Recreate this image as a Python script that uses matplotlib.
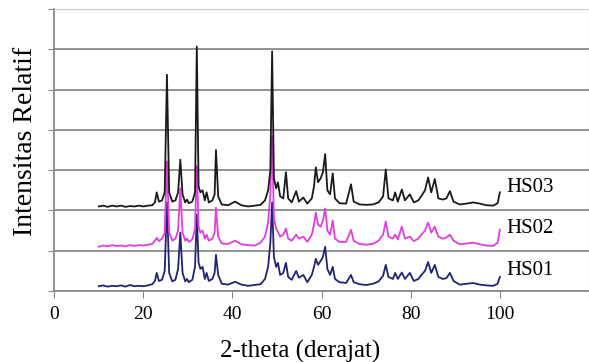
import matplotlib.pyplot as plt

plt.rcParams['font.family'] = ['Liberation Serif', 'DejaVu Serif']

# 2-theta positions of the trace vertices (shared by all three samples)
two_theta = [10.0, 11.0, 12.0, 13.0, 14.0, 15.0, 16.0, 17.0, 18.0, 19.0,
             20.0, 21.0, 22.0, 22.6,
             23.0, 23.5, 24.2, 24.8, 25.3, 25.8, 26.5, 27.2, 27.8, 28.3,
             28.8, 29.4, 29.8, 30.2, 31.0, 31.6, 32.0, 32.4, 32.8, 33.3,
             33.8, 34.2, 34.7, 35.5, 36.0, 36.3, 36.8, 37.6, 39.0, 40.6,
             42.0, 43.5, 45.0, 46.3, 47.3, 48.0, 48.5, 48.9, 49.3, 49.8,
             50.2, 50.7, 51.4, 52.0, 52.5, 53.3, 54.3, 54.9, 55.9, 56.8,
             57.8, 58.3, 58.7, 59.2, 59.8, 60.3, 60.8, 61.3, 61.9, 62.5,
             63.0, 64.0, 65.5, 66.6, 67.2, 68.5, 70.0, 71.5, 72.8, 73.8,
             74.4, 75.0, 76.0, 76.5, 77.1, 78.0, 78.7, 79.8, 80.7, 81.7,
             82.4, 83.2, 83.9, 84.6, 85.4, 86.2, 87.2, 88.0, 88.8, 89.6,
             91.0, 92.5, 94.0, 95.5, 97.0, 98.5, 99.5, 100.0]

# relative intensity as plotted (stacked)
hs03 = [2.10, 2.12, 2.09, 2.12, 2.10, 2.12, 2.09, 2.11, 2.10, 2.12,
        2.10, 2.12, 2.13, 2.20,
        2.45, 2.22, 2.25, 2.45, 5.37, 2.45, 2.22, 2.25, 2.45, 3.26,
        2.40, 2.20, 2.27, 2.18, 2.22, 2.45, 6.07, 2.60, 2.45, 2.50,
        2.25, 2.45, 2.20, 2.25, 2.40, 3.50, 2.35, 2.15, 2.13, 2.22,
        2.13, 2.10, 2.12, 2.14, 2.25, 2.50, 3.00, 5.95, 2.80, 2.55,
        2.70, 2.35, 2.30, 2.95, 2.30, 2.20, 2.48, 2.22, 2.32, 2.17,
        2.30, 2.60, 3.07, 2.70, 2.80, 2.95, 3.40, 2.50, 2.40, 2.92,
        2.30, 2.18, 2.17, 2.65, 2.22, 2.15, 2.14, 2.15, 2.20, 2.35,
        3.02, 2.30, 2.25, 2.45, 2.22, 2.52, 2.25, 2.40, 2.20, 2.25,
        2.36, 2.50, 2.82, 2.45, 2.78, 2.30, 2.27, 2.30, 2.48, 2.22,
        2.15, 2.17, 2.20, 2.17, 2.13, 2.12, 2.18, 2.45]

hs02 = [1.10, 1.13, 1.11, 1.14, 1.12, 1.13, 1.11, 1.14, 1.12, 1.14,
        1.13, 1.15, 1.17, 1.25,
        1.32, 1.24, 1.30, 1.45, 3.22, 1.45, 1.25, 1.30, 1.50, 2.55,
        1.45, 1.25, 1.30, 1.22, 1.28, 1.55, 3.10, 1.60, 1.45, 1.50,
        1.30, 1.40, 1.25, 1.30, 1.45, 2.07, 1.35, 1.18, 1.17, 1.25,
        1.16, 1.14, 1.13, 1.20, 1.35, 1.70, 2.40, 3.85, 1.80, 1.55,
        1.47, 1.35, 1.40, 1.55, 1.30, 1.25, 1.40, 1.30, 1.35, 1.22,
        1.40, 1.65, 1.95, 1.65, 1.60, 1.75, 2.05, 1.50, 1.40, 1.75,
        1.30, 1.22, 1.22, 1.52, 1.25, 1.17, 1.15, 1.17, 1.25, 1.40,
        1.73, 1.35, 1.30, 1.40, 1.28, 1.60, 1.30, 1.35, 1.24, 1.30,
        1.40, 1.50, 1.70, 1.45, 1.60, 1.35, 1.30, 1.33, 1.40, 1.25,
        1.16, 1.18, 1.20, 1.16, 1.13, 1.12, 1.20, 1.52]

hs01 = [0.12, 0.14, 0.11, 0.13, 0.12, 0.14, 0.11, 0.15, 0.12, 0.13,
        0.12, 0.14, 0.17, 0.25,
        0.45, 0.25, 0.28, 0.50, 2.20, 0.45, 0.24, 0.28, 0.55, 1.45,
        0.45, 0.24, 0.30, 0.22, 0.28, 0.60, 1.90, 0.70, 0.55, 0.60,
        0.30, 0.45, 0.25, 0.30, 0.45, 0.90, 0.40, 0.18, 0.16, 0.23,
        0.16, 0.13, 0.15, 0.17, 0.30, 0.60, 1.20, 2.20, 0.85, 0.60,
        0.70, 0.40, 0.45, 0.70, 0.35, 0.28, 0.50, 0.33, 0.40, 0.22,
        0.40, 0.60, 0.80, 0.65, 0.75, 0.85, 1.10, 0.55, 0.40, 0.60,
        0.30, 0.22, 0.20, 0.40, 0.22, 0.17, 0.15, 0.18, 0.24, 0.38,
        0.65, 0.35, 0.30, 0.45, 0.30, 0.46, 0.30, 0.45, 0.25, 0.30,
        0.40, 0.50, 0.72, 0.45, 0.65, 0.35, 0.30, 0.32, 0.45, 0.25,
        0.16, 0.18, 0.20, 0.16, 0.14, 0.13, 0.18, 0.35]

labels = ['HS01', 'HS02', 'HS03']
label_y = [0.52, 1.55, 2.58]
xticks = [0, 20, 40, 60, 80, 100]

fig = plt.figure(figsize=(5.89, 3.62), dpi=100)
ax = fig.add_axes([0.092, 0.196, 0.908, 0.779])

ax.plot(two_theta, hs01, color='#222277', lw=1.3)
ax.plot(two_theta, hs02, color='#e23ce2', lw=1.3)
ax.plot(two_theta, hs03, color='#1a1a1a', lw=1.3)

for lab, yy in zip(labels, label_y):
    ax.text(101.5, yy, lab, fontsize=15, va='center', ha='left')

ax.set_xlim(0, 120)
ax.set_ylim(0, 7)
ax.set_xticks(xticks + [120])
ax.set_xticklabels([str(t) for t in xticks] + [''])
ax.set_yticks(range(8))
ax.set_yticklabels([])
ax.yaxis.grid(True, color='#8a8a8a', lw=1.3)
ax.set_axisbelow(True)
ax.tick_params(axis='x', direction='out', length=5, color='#888888',
               labelsize=14, pad=6)
ax.tick_params(axis='y', direction='out', length=4, color='#888888')

for side in ['left', 'bottom']:
    ax.spines[side].set_color('#8a8a8a')
    ax.spines[side].set_linewidth(1.3)
ax.spines['top'].set_color('#cccccc')
ax.spines['right'].set_color('#cccccc')

ax.set_xlabel('2-theta (derajat)', fontsize=18)
ax.xaxis.set_label_coords(0.46, -0.175)
ax.set_ylabel('Intensitas Relatif', fontsize=20)
ax.yaxis.set_label_coords(-0.03, 0.53)

fig.savefig('out.png', dpi=100)
